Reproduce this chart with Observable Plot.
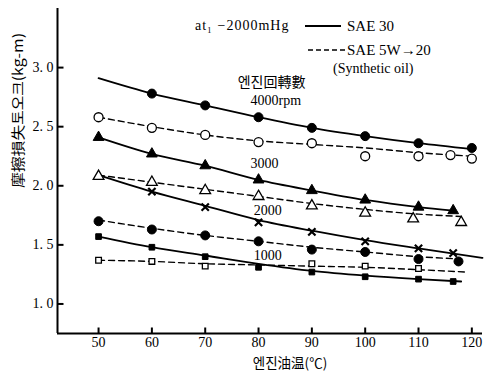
<!DOCTYPE html>
<html><head><meta charset="utf-8">
<script src="https://cdn.jsdelivr.net/npm/d3@7"></script>
<script src="https://cdn.jsdelivr.net/npm/@observablehq/plot@0.6"></script>
<style>
body{margin:0;background:#fff;}
#wrap{position:relative;width:490px;height:382px;}
#legend{position:absolute;left:0;top:0;pointer-events:none;}
</style></head><body><div id="wrap"></div>
<script>
// ---- data ----
const xTicks = [50, 60, 70, 80, 90, 100, 110, 120];
const yTicks = [1.0, 1.5, 2.0, 2.5, 3.0];
const xDomain = [42.3, 122];
const yDomain = [0.75, 3.5];

// 4000 rpm
const s30_4000_lx = [50, 60, 70, 80, 90, 100, 110, 120];
const s30_4000_ly = [2.91, 2.78, 2.68, 2.58, 2.49, 2.42, 2.36, 2.31];
const s30_4000_mx = [60, 70, 80, 90, 100, 110, 120];
const s30_4000_my = [2.78, 2.68, 2.58, 2.49, 2.42, 2.36, 2.32];
const s5w_4000_lx = [50, 60, 70, 80, 90, 100, 110, 120];
const s5w_4000_ly = [2.58, 2.50, 2.43, 2.38, 2.35, 2.32, 2.28, 2.25];
const s5w_4000_mx = [50, 60, 70, 80, 90, 100, 110, 116, 120];
const s5w_4000_my = [2.58, 2.49, 2.43, 2.37, 2.36, 2.25, 2.25, 2.26, 2.23];
// 3000 rpm
const s30_3000_lx = [50, 60, 70, 80, 90, 100, 110, 116.5];
const s30_3000_ly = [2.41, 2.27, 2.17, 2.05, 1.96, 1.88, 1.82, 1.79];
const s30_3000_mx = [50, 60, 70, 80, 90, 100, 110, 116.5];
const s30_3000_my = [2.41, 2.27, 2.17, 2.05, 1.96, 1.88, 1.82, 1.79];
const s5w_3000_lx = [50, 60, 70, 80, 90, 100, 110, 118];
const s5w_3000_ly = [2.09, 2.03, 1.97, 1.91, 1.85, 1.80, 1.76, 1.74];
const s5w_3000_mx = [50, 60, 70, 80, 90, 100, 109, 118];
const s5w_3000_my = [2.08, 2.03, 1.96, 1.91, 1.83, 1.77, 1.72, 1.69];
// 2000 rpm
const s30_2000_lx = [50, 60, 70, 80, 90, 100, 110, 122];
const s30_2000_ly = [2.09, 1.95, 1.83, 1.71, 1.62, 1.54, 1.47, 1.39];
const s30_2000_mx = [60, 70, 80, 90, 100, 110, 116.5];
const s30_2000_my = [1.95, 1.82, 1.69, 1.61, 1.53, 1.47, 1.43];
const s5w_2000_lx = [50, 60, 70, 80, 90, 100, 110, 118];
const s5w_2000_ly = [1.71, 1.64, 1.58, 1.53, 1.48, 1.44, 1.40, 1.38];
const s5w_2000_mx = [50, 60, 70, 80, 90, 100, 110, 117.5];
const s5w_2000_my = [1.70, 1.63, 1.58, 1.53, 1.46, 1.44, 1.38, 1.36];
// 1000 rpm
const s30_1000_lx = [50, 60, 70, 80, 90, 100, 110, 118];
const s30_1000_ly = [1.57, 1.48, 1.41, 1.34, 1.28, 1.24, 1.21, 1.19];
const s30_1000_mx = [50, 60, 70, 80, 90, 100, 110, 116.5];
const s30_1000_my = [1.57, 1.48, 1.40, 1.31, 1.27, 1.23, 1.21, 1.19];
const s5w_1000_lx = [50, 60, 70, 80, 90, 100, 110, 119];
const s5w_1000_ly = [1.37, 1.36, 1.34, 1.33, 1.32, 1.31, 1.29, 1.27];
const s5w_1000_mx = [50, 60, 70, 90, 100, 110];
const s5w_1000_my = [1.37, 1.36, 1.32, 1.34, 1.32, 1.30];

const rpmLabels = ["4000rpm", "3000", "2000", "1000"];
const rpmLabelX = [78.5, 78.5, 79.1, 79.1];
const rpmLabelY = [2.72, 2.19, 1.79, 1.41];
const rpmTitle = "엔진回轉數";
const rpmTitleX = 76.1, rpmTitleY = 2.87;
const yLabel = "摩擦損失토오크(kg-m)";
const xLabel = "엔진油温(℃)";
const condText = "at₁ −2000mHg";
const legendNames = ["SAE 30", "SAE 5W→20", "(Synthetic oil)"];

// ---- build series ----
const zip = (xs, ys) => xs.map((x, i) => ({x, y: ys[i]}));
const series = [
  {oil: "30", line: zip(s30_4000_lx, s30_4000_ly), pts: zip(s30_4000_mx, s30_4000_my), sym: "circle", open: false},
  {oil: "5w", line: zip(s5w_4000_lx, s5w_4000_ly), pts: zip(s5w_4000_mx, s5w_4000_my), sym: "circle", open: true},
  {oil: "30", line: zip(s30_3000_lx, s30_3000_ly), pts: zip(s30_3000_mx, s30_3000_my), sym: "triangle", open: false},
  {oil: "5w", line: zip(s5w_3000_lx, s5w_3000_ly), pts: zip(s5w_3000_mx, s5w_3000_my), sym: "triangle", open: true},
  {oil: "30", line: zip(s30_2000_lx, s30_2000_ly), pts: zip(s30_2000_mx, s30_2000_my), sym: "times", open: false},
  {oil: "5w", line: zip(s5w_2000_lx, s5w_2000_ly), pts: zip(s5w_2000_mx, s5w_2000_my), sym: "circle", open: false},
  {oil: "30", line: zip(s30_1000_lx, s30_1000_ly), pts: zip(s30_1000_mx, s30_1000_my), sym: "square", open: false},
  {oil: "5w", line: zip(s5w_1000_lx, s5w_1000_ly), pts: zip(s5w_1000_mx, s5w_1000_my), sym: "square", open: true}
];

const sizeOf = {circle: 4.5, triangle: 4.0, square: 3.2, times: 3.4};
const marks = [];
for (const s of series) {
  marks.push(Plot.line(s.line, {x: "x", y: "y", stroke: "black", strokeWidth: s.oil === "30" ? 1.8 : 1.4,
    strokeDasharray: s.oil === "30" ? null : "6,4", curve: "monotone-x"}));
}
for (const s of series) {
  if (s.sym === "times") {
    marks.push(Plot.dot(s.pts, {x: "x", y: "y", symbol: "times", r: sizeOf.times, stroke: "black", strokeWidth: 2.2}));
  } else {
    marks.push(Plot.dot(s.pts, {x: "x", y: "y", symbol: s.sym, r: sizeOf[s.sym],
      fill: s.open ? "white" : "black", stroke: "black", strokeWidth: s.open ? 1.3 : 1}));
  }
}

const ff = "'Liberation Serif', 'DejaVu Serif', serif";
const cjk = "'Noto Sans CJK KR', 'Noto Sans CJK SC', sans-serif";
const W = 490, H = 382, mL = 57, mR = 8, mT = 8, mB = 49;
const tickLen = 6; // px
const yPerPx = (yDomain[1] - yDomain[0]) / (H - mT - mB);
const xPerPx = (xDomain[1] - xDomain[0]) / (W - mL - mR);
const xTickRows = xTicks.map(v => ({v, a: yDomain[0], b: yDomain[0] + tickLen * yPerPx}));
const yTickRows = yTicks.map(v => ({v, a: xDomain[0], b: xDomain[0] + tickLen * xPerPx}));

const plot = Plot.plot({
  width: W, height: H,
  marginLeft: mL, marginRight: mR, marginTop: mT, marginBottom: mB,
  style: {fontFamily: ff, fontSize: "14px", color: "black", background: "white"},
  x: {domain: xDomain, ticks: xTicks},
  y: {domain: yDomain, ticks: yTicks},
  marks: [
    Plot.axisX(xTicks, {tickSize: 0, tickPadding: 4, fontSize: 14, label: null}),
    Plot.axisY(yTicks, {tickSize: 0, tickPadding: 4, fontSize: 14, label: null, tickFormat: d => d.toFixed(1).replace(".", ". ")}),
    Plot.ruleX([xDomain[0]], {stroke: "black", strokeWidth: 2}),
    Plot.ruleY([yDomain[0]], {stroke: "black", strokeWidth: 2}),
    // inward tick marks
    Plot.link(xTickRows, {x1: "v", x2: "v", y1: "a", y2: "b", stroke: "black", strokeWidth: 2}),
    Plot.link(yTickRows, {y1: "v", y2: "v", x1: "a", x2: "b", stroke: "black", strokeWidth: 2}),
    ...marks,
    Plot.text(rpmLabels, {x: (d, i) => rpmLabelX[i], y: (d, i) => rpmLabelY[i], text: d => d, textAnchor: "start", fontSize: 14, fontFamily: ff, fill: "black"}),
    Plot.text([rpmTitle], {x: rpmTitleX, y: rpmTitleY, text: d => d, textAnchor: "start", fontSize: 14, fontFamily: cjk, fill: "black"}),
    Plot.text([yLabel], {frameAnchor: "left", rotate: -90, dx: -39, dy: 17, text: d => d, fontSize: 14, fontFamily: cjk, fill: "black", lineAnchor: "middle"}),
    Plot.text([xLabel], {frameAnchor: "bottom", dx: 20, dy: 30, lineAnchor: "middle", text: d => d, fontSize: 13.5, fontFamily: cjk, fill: "black"})
  ]
});

const wrap = document.getElementById("wrap");
wrap.appendChild(plot);
// fit the rotated y label to the reference's length
for (const t of plot.querySelectorAll("text")) {
  if (t.textContent === yLabel) { t.setAttribute("textLength", 155); t.setAttribute("lengthAdjust", "spacingAndGlyphs"); }
}

// legend overlay
const ns = "http://www.w3.org/2000/svg";
const leg = document.createElementNS(ns, "svg");
leg.setAttribute("id", "legend");
leg.setAttribute("width", 490);
leg.setAttribute("height", 90);
leg.innerHTML = `
  <text x="195" y="30" font-family="${ff}" font-size="14" letter-spacing="1">${condText}</text>
  <line x1="305" y1="26" x2="341" y2="26" stroke="black" stroke-width="2"/>
  <text x="347" y="31" font-family="${ff}" font-size="15">${legendNames[0]}</text>
  <line x1="308" y1="50" x2="345" y2="50" stroke="black" stroke-width="1.4" stroke-dasharray="5,3"/>
  <text x="347" y="55" font-family="${ff}" font-size="15">${legendNames[1]}</text>
  <text x="333" y="73" font-family="${ff}" font-size="14">${legendNames[2]}</text>`;
wrap.appendChild(leg);
</script></body></html>
